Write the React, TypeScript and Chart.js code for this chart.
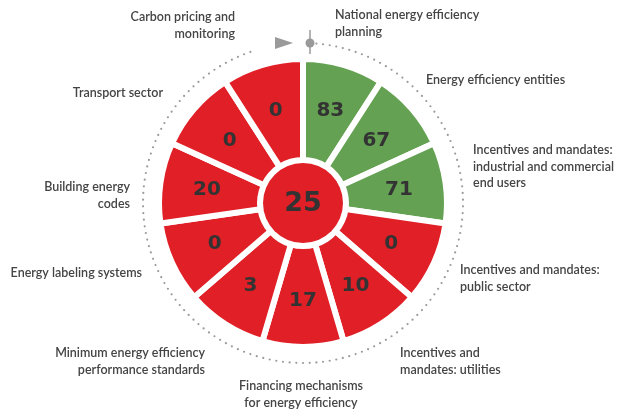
import React, { useEffect, useRef } from "react";
import { Chart, registerables } from "chart.js";

Chart.register(...registerables);

const categories = [
  "National energy efficiency planning",
  "Energy efficiency entities",
  "Incentives and mandates: industrial and commercial end users",
  "Incentives and mandates: public sector",
  "Incentives and mandates: utilities",
  "Financing mechanisms for energy efficiency",
  "Minimum energy efficiency performance standards",
  "Energy labeling systems",
  "Building energy codes",
  "Transport sector",
  "Carbon pricing and monitoring",
];
const scores = [83, 67, 71, 0, 10, 17, 3, 0, 20, 0, 0];
const segmentWeights = [1, 1, 1, 1, 1, 1, 1, 1, 1, 1, 1];
const overallScore = 25;

// display lines for the outer labels
const labelLines = [
  ["National energy efficiency", "planning"],
  ["Energy efficiency entities"],
  ["Incentives and mandates:", "industrial and commercial", "end users"],
  ["Incentives and mandates:", "public sector"],
  ["Incentives and", "mandates: utilities"],
  ["Financing mechanisms", "for energy efficiency"],
  ["Minimum energy efficiency", "performance standards"],
  ["Energy labeling systems"],
  ["Building energy", "codes"],
  ["Transport sector"],
  ["Carbon pricing and", "monitoring"],
];
// label anchor offsets from the chart centre (layout only)
const labelAnchors: [number, number, CanvasTextAlign][] = [
  [32, -188, "left"],
  [123, -123, "left"],
  [170, -53, "left"],
  [157, 67, "left"],
  [97, 150, "left"],
  [-2, 183, "center"],
  [-98, 150, "right"],
  [-161, 70, "right"],
  [-173, -16, "right"],
  [-140, -110, "right"],
  [-68, -186, "right"],
];

const RED = "#E01F27";
const GREEN = "#64A152";
const TEXT = "#333333";
const LABEL = "#444444";
const GRAY = "#9a9a9a";

const colorFor = (v: number) => (v >= 50 ? GREEN : RED);

export default function App() {
  const ref = useRef<HTMLCanvasElement | null>(null);

  useEffect(() => {
    document.body.style.margin = "0";
    const canvas = ref.current;
    if (!canvas) return;

    const overlay = {
      id: "overlay",
      beforeDatasetsDraw(chart: any) {
        const meta = chart.getDatasetMeta(0);
        const arc = meta.data[0];
        const cx = arc.x;
        const cy = arc.y;
        const ctx = chart.ctx as CanvasRenderingContext2D;
        ctx.save();
        // dotted circle
        const R = 160;
        const n = 150;
        ctx.fillStyle = GRAY;
        for (let i = 0; i < n; i++) {
          const a = -Math.PI / 2 + (i / n) * Math.PI * 2;
          const deg = (i / n) * 360;
          if (deg < 4 || deg > 343) continue;
          ctx.beginPath();
          ctx.arc(cx + R * Math.cos(a), cy + R * Math.sin(a), 1.1, 0, Math.PI * 2);
          ctx.fill();
        }
        // arrow
        const ty = cy - R;
        ctx.beginPath();
        ctx.moveTo(cx - 28, ty - 6);
        ctx.lineTo(cx - 10, ty);
        ctx.lineTo(cx - 28, ty + 6);
        ctx.closePath();
        ctx.fill();
        // marker
        ctx.strokeStyle = GRAY;
        ctx.lineWidth = 1.5;
        ctx.beginPath();
        ctx.moveTo(cx + 7, ty - 13);
        ctx.lineTo(cx + 7, ty + 11);
        ctx.stroke();
        ctx.beginPath();
        ctx.arc(cx + 7, ty, 4.5, 0, Math.PI * 2);
        ctx.fill();
        ctx.restore();
      },
      afterDatasetsDraw(chart: any) {
        const meta = chart.getDatasetMeta(0);
        const ctx = chart.ctx as CanvasRenderingContext2D;
        const arc0 = meta.data[0];
        const cx = arc0.x;
        const cy = arc0.y;
        ctx.save();
        ctx.textAlign = "center";
        ctx.textBaseline = "middle";
        ctx.fillStyle = TEXT;
        ctx.font = "bold 20px 'DejaVu Sans'";
        meta.data.forEach((a: any, i: number) => {
          const mid = (a.startAngle + a.endAngle) / 2;
          const r = 97;
          ctx.fillText(String(scores[i]), cx + r * Math.cos(mid), cy + r * Math.sin(mid) + 1);
        });
        // center disc
        ctx.fillStyle = RED;
        ctx.beginPath();
        ctx.arc(cx, cy, 40, 0, Math.PI * 2);
        ctx.fill();
        ctx.fillStyle = TEXT;
        ctx.font = "bold 27px 'DejaVu Sans'";
        ctx.fillText(String(overallScore), cx, cy + 1);
        // outer labels
        ctx.fillStyle = LABEL;
        ctx.font = "600 12.5px Lato";
        labelLines.forEach((lines, i) => {
          const [dx, dy, align] = labelAnchors[i];
          ctx.textAlign = align;
          lines.forEach((t, j) => {
            ctx.fillText(t, cx + dx, cy + dy + j * 16.5);
          });
        });
        ctx.restore();
      },
    };

    const chart = new Chart(canvas, {
      type: "doughnut",
      data: {
        labels: categories,
        datasets: [
          {
            data: segmentWeights,
            backgroundColor: scores.map(colorFor),
            borderColor: "#ffffff",
            borderWidth: 6,
            borderJoinStyle: "miter",
            hoverOffset: 0,
          } as any,
        ],
      },
      options: {
        animation: false,
        responsive: false,
        maintainAspectRatio: false,
        radius: 144,
        cutout: `${(43 / 144) * 100}%`,
        layout: { padding: { left: 0, right: 19, top: 0, bottom: 7 } },
        plugins: { legend: { display: false }, tooltip: { enabled: false } },
        events: [],
      } as any,
      plugins: [overlay],
    });
    return () => chart.destroy();
  }, []);

  return (
    <div style={{ position: "absolute", left: 0, top: 0, width: 625, height: 413 }}>
      <canvas ref={ref} width={625} height={413} style={{ width: 625, height: 413 }} />
    </div>
  );
}
